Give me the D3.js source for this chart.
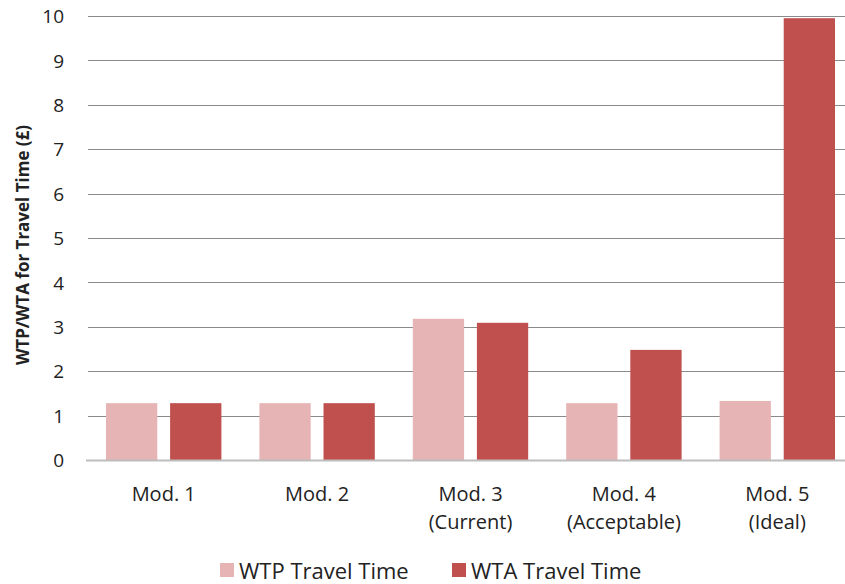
<!DOCTYPE html>
<html>
<head>
<meta charset="utf-8">
<script src="https://cdn.jsdelivr.net/npm/d3@7"></script>
<style>
  html, body { margin: 0; padding: 0; background: #fff; }
  svg { display: block; }
  text { font-family: "Open Sans", sans-serif; fill: #222; }
</style>
</head>
<body>
<svg id="chart" width="845" height="584"></svg>
<script>
const categories = [["Mod. 1"], ["Mod. 2"], ["Mod. 3", "(Current)"], ["Mod. 4", "(Acceptable)"], ["Mod. 5", "(Ideal)"]];
const seriesNames = ["WTP Travel Time", "WTA Travel Time"];
const wtp = [1.28, 1.28, 3.18, 1.28, 1.33];
const wta = [1.28, 1.28, 3.09, 2.48, 9.95];
const yTicks = [0, 1, 2, 3, 4, 5, 6, 7, 8, 9, 10];
const colors = ["#e6b4b5", "#c0504d"];
const yTitle = "WTP/WTA for Travel Time (£)";

const svg = d3.select("#chart");
const mLeft = 87, mRight = 854, mTop = 16, mBottom = 460;

const x0 = d3.scaleBand().domain(d3.range(categories.length)).range([mLeft, mRight]).paddingInner(0).paddingOuter(0);
const x1 = d3.scaleBand().domain([0, 1]).range([19, x0.bandwidth() - 19]).paddingInner(0.2);
const y = d3.scaleLinear().domain([0, 10]).range([mBottom, mTop]);

// gridlines
svg.append("g").selectAll("line").data(yTicks.filter(d => d > 0)).join("line")
  .attr("x1", mLeft + 1).attr("x2", 845)
  .attr("y1", d => Math.round(y(d)) + 0.5).attr("y2", d => Math.round(y(d)) + 0.5)
  .attr("stroke", "#8a8a8a").attr("stroke-width", 1);

// y axis labels
const yAxis = d3.axisLeft(y).tickValues(yTicks).tickSize(0).tickPadding(0).tickFormat(d3.format("d"));
const ya = svg.append("g").attr("transform", `translate(64,0)`).call(yAxis);
ya.select(".domain").remove();
ya.selectAll("text").style("font-size", "19px").style("font-family", "'Open Sans', sans-serif").attr("fill", "#2a2a2a").attr("dy", "0.35em");

// bars
const data = categories.map((c, i) => [wtp[i], wta[i]]);
const groups = svg.append("g").selectAll("g").data(data).join("g")
  .attr("transform", (d, i) => `translate(${x0(i)},0)`);
groups.selectAll("rect").data(d => d).join("rect")
  .attr("x", (d, j) => x1(j)).attr("width", x1.bandwidth())
  .attr("y", d => y(d)).attr("height", d => y(0) - y(d))
  .attr("fill", (d, j) => colors[j]);

// baseline
svg.append("line").attr("x1", mLeft - 1).attr("x2", 845)
  .attr("y1", y(0) + 0.5).attr("y2", y(0) + 0.5)
  .attr("stroke", "#bdbdbd").attr("stroke-width", 2);

// x labels
const xl = svg.append("g").selectAll("text").data(categories).join("text")
  .attr("text-anchor", "middle")
  .attr("x", (d, i) => x0(i) + x0.bandwidth() / 2)
  .attr("y", 501)
  .style("font-size", "20px").attr("fill", "#2a2a2a");
xl.selectAll("tspan").data(d => d).join("tspan")
  .attr("x", function() { return d3.select(this.parentNode).attr("x"); })
  .attr("dy", (d, k) => k === 0 ? 0 : 27.5)
  .text(d => d);

// y title
svg.append("text").attr("transform", `translate(29,${(mTop + mBottom) / 2 + 7}) rotate(-90)`)
  .attr("text-anchor", "middle").style("font-size", "17px").style("font-weight", "bold")
  .text(yTitle);

// legend
const legend = svg.append("g");
const legX = [220, 452];
seriesNames.forEach((name, j) => {
  legend.append("rect").attr("x", legX[j]).attr("y", 563).attr("width", 14).attr("height", 14).attr("fill", colors[j]);
  legend.append("text").attr("x", legX[j] + 19).attr("y", 579).style("font-size", "22px").attr("fill", "#2a2a2a").text(name);
});
</script>
</body>
</html>
